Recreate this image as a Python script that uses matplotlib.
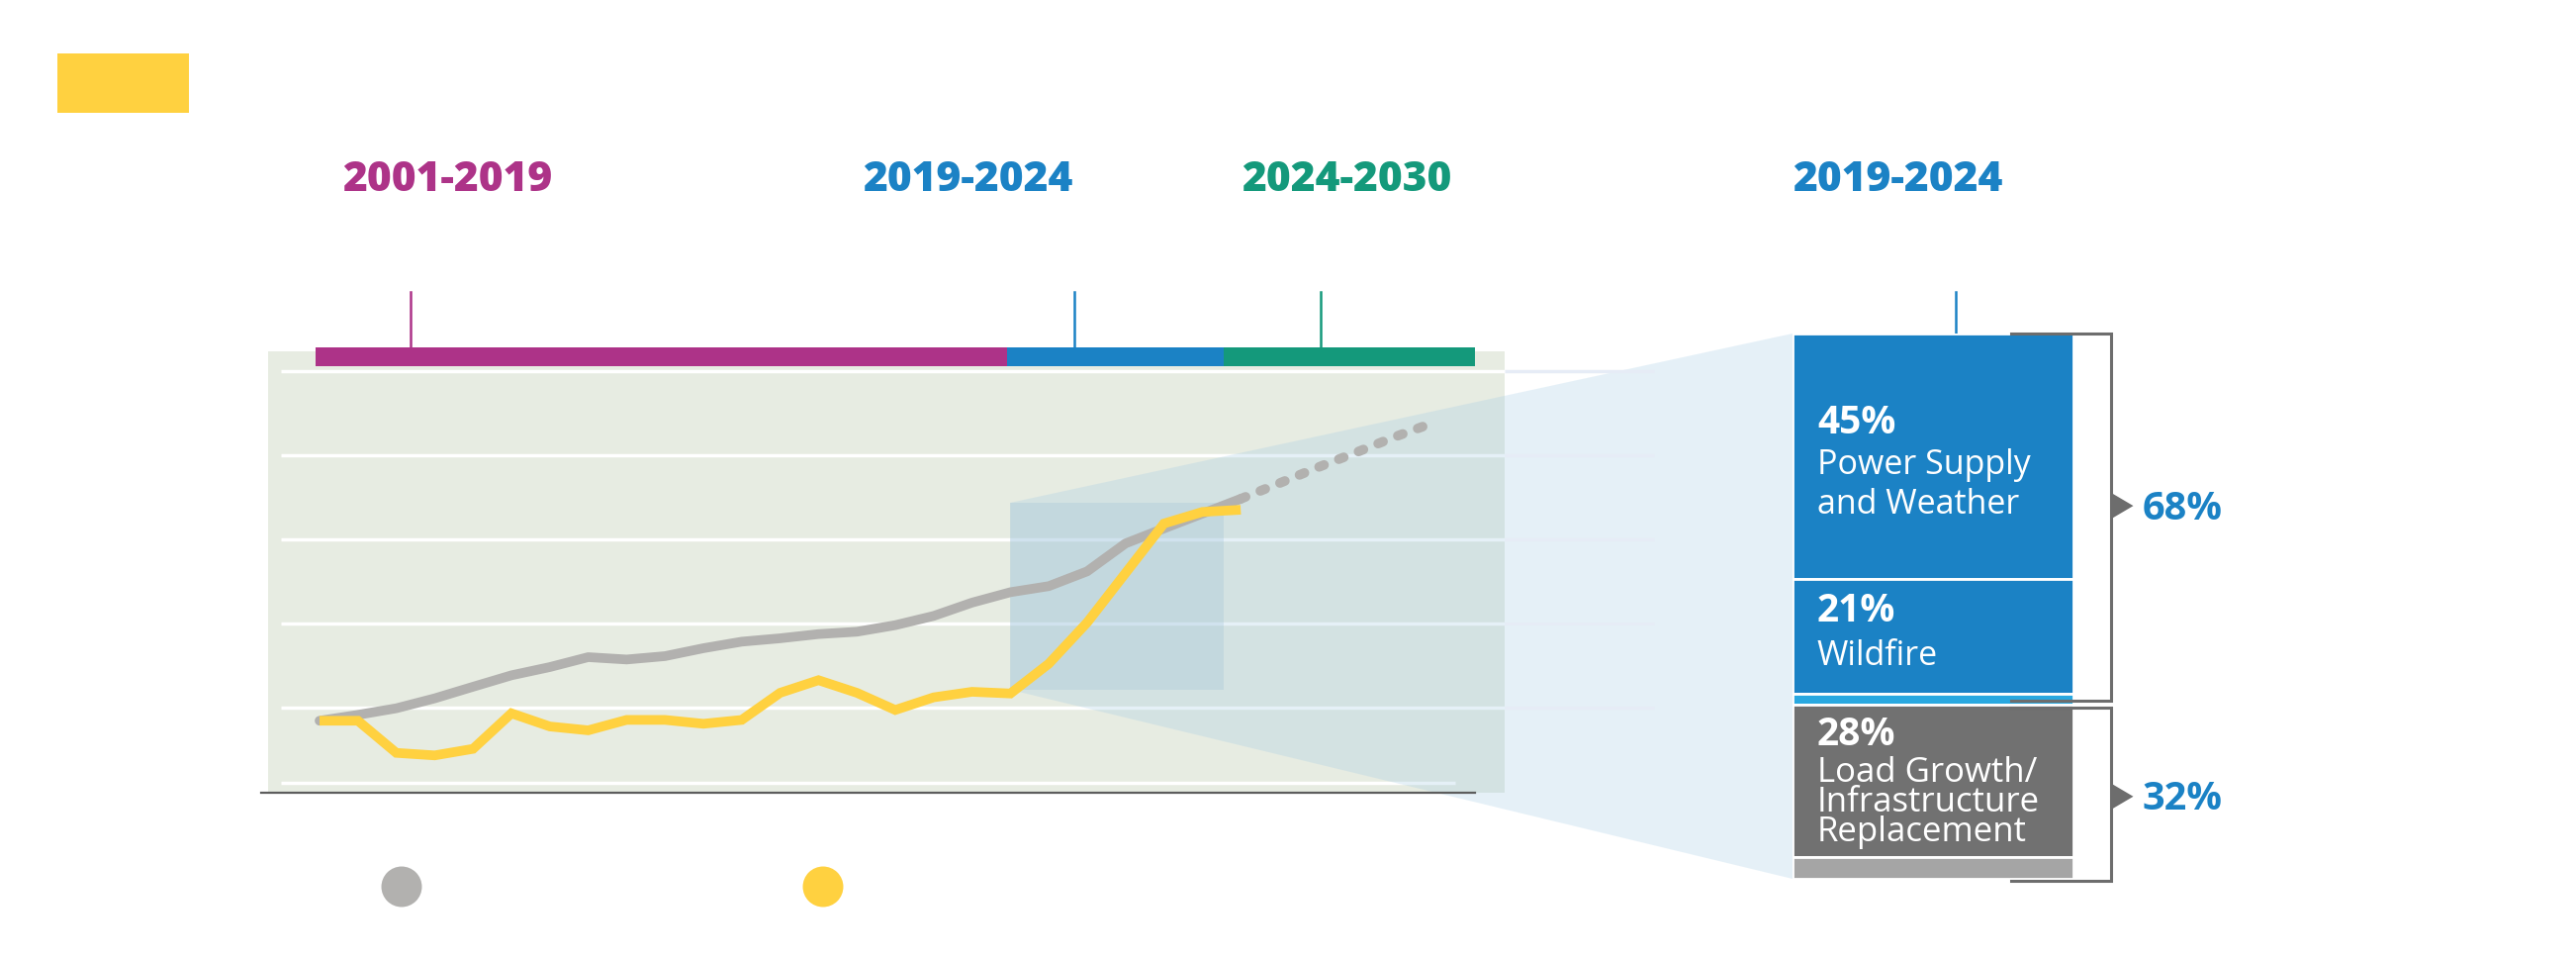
import matplotlib

matplotlib.use("Agg")
import matplotlib.pyplot as plt  # noqa: E402
import matplotlib.transforms as mtransforms  # noqa: E402
from matplotlib.patches import Polygon, Rectangle  # noqa: E402

plt.rcParams["font.family"] = ["Open Sans", "DejaVu Sans"]

# ---- data ----
years = list(range(2001, 2026))
gray_hist = [92.2, 95.7, 99.6, 105.5, 112.4, 119.2, 124.1, 130.0, 128.6, 130.6,
             135.3, 139.2, 141.2, 143.7, 145.1, 149.0, 154.5, 162.4, 168.6, 172.2,
             181.0, 197.6, 206.5, 215.3, 224.1]
yellow_vals = [92.2, 92.2, 73.1, 71.6, 75.5, 96.6, 88.8, 86.5, 92.7, 92.7,
               90.4, 92.7, 108.8, 116.3, 108.8, 98.6, 106.1, 109.4, 108.4, 126.1,
               150.6, 180.0, 209.4, 216.3, 217.6]
proj_years = [2025, 2026, 2027, 2028, 2029, 2030]
gray_proj = [224.1, 233.3, 242.7, 251.6, 260.8, 269.2]
grid_vals = [100, 150, 200, 250, 300]

periods = ["2001-2019", "2019-2024", "2024-2030"]
period_edges = [2000.9, 2018.9, 2024.55, 2031.1]
period_colors = ["#AD3388", "#1B82C5", "#14997B"]

focus_period = "2019-2024"
focus_box = (2019, 110.6, 221.8)  # x start, y low, y high

shares = [45, 21, 2, 28, 4]
share_colors = ["#1B82C5", "#1B82C5", "#29A8E0", "#717171", "#A5A5A5"]
group_labels = ["68%", "32%"]

GRAY = "#B2B1AF"
YELLOW = "#FFD140"
PANEL = "#E7ECE2"
BRACKET = "#6D6D6D"
W, H = 2604, 970

fig = plt.figure(figsize=(W / 100, H / 100), dpi=100)

# decoration layer in pixel units
deco = fig.add_axes([0, 0, 1, 1])
deco.set_xlim(0, W)
deco.set_ylim(H, 0)
deco.axis("off")
deco.patch.set_visible(False)

deco.add_patch(Rectangle((58, 55), 133, 60, color=YELLOW, lw=0))
for label, cx, col, tx in zip(periods, [452, 978, 1361], period_colors,
                              [415, 1086, 1335]):
    deco.text(cx, 193, label, ha="center", va="baseline", fontsize=30.5,
              fontweight=800, color=col)
    deco.plot([tx, tx], [296, 352], color=col, lw=1.8)
deco.text(1918, 193, focus_period, ha="center", va="baseline", fontsize=30.5,
          fontweight=800, color=period_colors[1])
deco.plot([1977, 1977], [296, 338], color=period_colors[1], lw=1.8)
deco.scatter([406, 832], [897, 897], s=870, c=[GRAY, YELLOW], lw=0)

# ---- main line chart ----
ax = fig.add_axes([271 / W, 1 - 802 / H, 1250 / W, 446 / H])
ax.set_xlim(1999.66, 2031.876)
ax.set_ylim(49.41, 311.76)
ax.set_facecolor(PANEL)
for s in ax.spines.values():
    s.set_visible(False)
ax.set_xticks([])
ax.set_yticks([])

for g in grid_vals:
    ax.plot([2000.0, 2035.77], [g, g], color="white", lw=2.5, zorder=1,
            clip_on=False, solid_capstyle="butt")
ax.plot([2000.0, 2030.6], [55.3, 55.3], color="white", lw=2.5, zorder=1,
        solid_capstyle="butt")

xblend = mtransforms.blended_transform_factory(ax.transData, ax.transAxes)
for i, col in enumerate(period_colors):
    ax.add_patch(Rectangle((period_edges[i], 0.9664),
                           period_edges[i + 1] - period_edges[i], 0.0426,
                           transform=xblend, color=col, lw=0, clip_on=False,
                           zorder=6))

ax.plot([1999.48, 2031.1], [49.41, 49.41], color="#5D5D5D", lw=1.6,
        clip_on=False, zorder=6)

bx0, blo, bhi = focus_box
ax.add_patch(Rectangle((bx0, blo), period_edges[2] - bx0, bhi - blo,
                       facecolor="#A0C1D4", alpha=0.3, lw=0, zorder=2))

# ---- stacked share bar ----
bax = fig.add_axes([1812 / W, 1 - 889 / H, 284 / W, 551 / H])
bax.set_xlim(0, 1)
bax.set_ylim(100, 0)
bax.axis("off")
bottom = 0
for v, c in zip(shares, share_colors):
    bax.bar(0.5, v, bottom=bottom, width=1.0, color=c, edgecolor="white",
            lw=2.0)
    bottom += v

# trapezoid linking the box to the bar
inv = ax.transData.inverted()
rt = inv.transform(bax.transData.transform((0, 0)))
rb = inv.transform(bax.transData.transform((0, 100)))
trap = Polygon([(bx0, bhi), tuple(rt), tuple(rb), (bx0, blo)],
               closed=True, facecolor="#9BC7E3", alpha=0.25, lw=0,
               clip_on=False, zorder=3)
ax.add_patch(trap)
for g in grid_vals:
    ax.plot([2031.876, 2035.77], [g, g], color="#E6ECF6", lw=2.5, zorder=3.5,
            clip_on=False, solid_capstyle="butt")

ax.plot(years, gray_hist, color=GRAY, lw=7, solid_capstyle="round",
        solid_joinstyle="round", zorder=4)
ax.plot(proj_years, gray_proj, color=GRAY, lw=7,
        linestyle=(0, (0.55, 1.65)), dash_capstyle="round", zorder=4)
ax.plot(years, yellow_vals, color=YELLOW, lw=7, solid_capstyle="butt",
        solid_joinstyle="miter", zorder=5)

# labels inside the bar
tx = 0.088
big, small = 28, 24.5
bax.text(tx, 18.1, "45%", fontsize=big, fontweight="bold", color="white",
         va="baseline")
bax.text(tx, 25.6, "Power Supply", fontsize=small, color="white",
         va="baseline")
bax.text(tx, 32.8, "and Weather", fontsize=small, color="white",
         va="baseline")
bax.text(tx, 52.7, "21%", fontsize=big, fontweight="bold", color="white",
         va="baseline")
bax.text(tx, 60.6, "Wildfire", fontsize=small, color="white", va="baseline")
bax.text(tx, 75.3, "28%", fontsize=big, fontweight="bold", color="white",
         va="baseline")
bax.text(tx, 82.0, "Load Growth/", fontsize=25, color="white", va="baseline")
bax.text(tx, 87.5, "Infrastructure", fontsize=25, color="white",
         va="baseline")
bax.text(tx, 93.0, "Replacement", fontsize=25, color="white", va="baseline")

# brackets
split = shares[0] + shares[1] + shares[2]
for (top, bot), lab, ay, ly in zip([(0, split - 0.6), (split + 0.6, 100.4)],
                                   group_labels, [31.6, 84.9], [34.0, 87.2]):
    bax.plot([0.778, 1.134, 1.134, 0.778], [top, top, bot, bot],
             color=BRACKET, lw=2.2, clip_on=False, solid_joinstyle="miter")
    bax.add_patch(Polygon([(1.134, ay - 2.4), (1.213, ay), (1.134, ay + 2.4)],
                          closed=True, color=BRACKET, lw=0, clip_on=False))
    bax.text(1.245, ly, lab, fontsize=28.5, fontweight="bold",
             color=period_colors[1], va="baseline", ha="left")

fig.savefig("out.png", dpi=100)
